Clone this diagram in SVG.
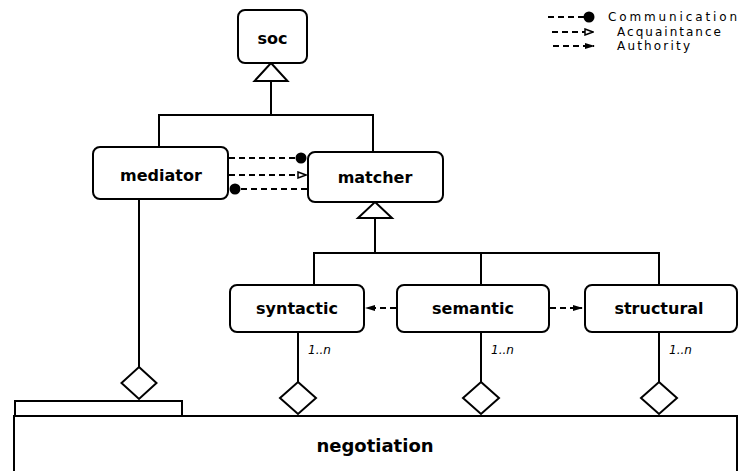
<svg xmlns="http://www.w3.org/2000/svg" width="740" height="471" viewBox="0 0 740 471">
  <style>
    .box { fill: #fff; stroke: #000; stroke-width: 2; }
    .line { fill: none; stroke: #000; stroke-width: 2; }
    .dash { fill: none; stroke: #000; stroke-width: 2; stroke-dasharray: 6 4; }
    .name { font-family: "DejaVu Sans", sans-serif; font-weight: bold; font-size: 16px; text-anchor: middle; fill: #000; }
    .mult { font-family: "DejaVu Sans", sans-serif; font-style: italic; font-size: 12px; fill: #000; }
    .legend { font-family: "DejaVu Sans", sans-serif; font-size: 12px; fill: #000; }
  </style>
  <defs>
    <marker id="dot" viewBox="0 0 12 12" refX="6" refY="6" markerWidth="12" markerHeight="12" markerUnits="userSpaceOnUse">
      <circle cx="6" cy="6" r="5.5" fill="#000"/>
    </marker>
    <marker id="open" viewBox="0 0 10 8" refX="9" refY="4" markerWidth="10" markerHeight="8" markerUnits="userSpaceOnUse" orient="auto">
      <path d="M1,1 L9,4 L1,7 Z" fill="#fff" stroke="#000" stroke-width="1.5"/>
    </marker>
    <marker id="solid" viewBox="0 0 10 8" refX="9" refY="4" markerWidth="10" markerHeight="8" markerUnits="userSpaceOnUse" orient="auto">
      <path d="M0,1 L10,4 L0,7 Z" fill="#000"/>
    </marker>
  </defs>

  <!-- legend -->
  <g id="legend">
    <line class="dash" x1="548" y1="17" x2="589" y2="17" stroke-dasharray="4 3" marker-end="url(#dot)"/>
    <text class="legend" x="608" y="21" textLength="129" lengthAdjust="spacing">Communication</text>
    <line class="dash" x1="552" y1="32" x2="593" y2="32" stroke-dasharray="4 3" marker-end="url(#open)"/>
    <text class="legend" x="617" y="36" textLength="104" lengthAdjust="spacing">Acquaintance</text>
    <line class="dash" x1="553" y1="46" x2="594" y2="46" stroke-dasharray="4 3" marker-end="url(#solid)"/>
    <text class="legend" x="617" y="50" textLength="73" lengthAdjust="spacing">Authority</text>
  </g>

  <!-- connectors -->
  <g id="connectors">
    <!-- generalisation to soc -->
    <polyline class="line" points="159,147 159,115 373,115 373,152"/>
    <line class="line" x1="271" y1="81" x2="271" y2="115"/>
    <path class="box" d="M271,63 L287.5,81 L254.5,81 Z"/>
    <!-- generalisation to matcher -->
    <polyline class="line" points="314,285 314,253 659,253 659,285"/>
    <line class="line" x1="481" y1="253" x2="481" y2="285"/>
    <line class="line" x1="375" y1="218" x2="375" y2="253"/>
    <path class="box" d="M375,202 L392,218 L358,218 Z"/>
    <!-- mediator / matcher dependencies -->
    <line class="dash" x1="229" y1="158" x2="301" y2="158" marker-end="url(#dot)"/>
    <line class="dash" x1="229" y1="175" x2="306" y2="175" marker-end="url(#open)"/>
    <line class="dash" x1="307" y1="189" x2="235" y2="189" marker-end="url(#dot)"/>
    <!-- matcher variants -->
    <line class="dash" x1="396" y1="308" x2="366" y2="308" marker-end="url(#solid)"/>
    <line class="dash" x1="550" y1="308" x2="582" y2="308" marker-end="url(#solid)"/>
    <!-- aggregations into negotiation -->
    <line class="line" x1="139" y1="199" x2="139" y2="367"/>
    <path class="box" d="M139,367 L156.5,383 L139,399 L121.5,383 Z"/>
    <line class="line" x1="298" y1="333" x2="298" y2="382"/>
    <path class="box" d="M298,382 L316,398 L298,414 L280,398 Z"/>
    <line class="line" x1="481" y1="333" x2="481" y2="382"/>
    <path class="box" d="M481,382 L499,398 L481,414 L463,398 Z"/>
    <line class="line" x1="659" y1="333" x2="659" y2="382"/>
    <path class="box" d="M659,382 L677,398 L659,414 L641,398 Z"/>
    <text class="mult" x="308" y="354">1..n</text>
    <text class="mult" x="491" y="354">1..n</text>
    <text class="mult" x="669" y="354">1..n</text>
  </g>

  <g id="soc">
    <rect class="box" x="238" y="10" width="69" height="53" rx="7"/>
    <text class="name" x="272.5" y="44">soc</text>
  </g>

  <g id="mediator">
    <rect class="box" x="93" y="147" width="135" height="52" rx="7"/>
    <text class="name" x="161" y="181">mediator</text>
  </g>

  <g id="matcher">
    <rect class="box" x="308" y="152" width="135" height="50" rx="7"/>
    <text class="name" x="375" y="183">matcher</text>
  </g>

  <g id="syntactic">
    <rect class="box" x="230" y="285" width="134" height="47" rx="7"/>
    <text class="name" x="297" y="314">syntactic</text>
  </g>

  <g id="semantic">
    <rect class="box" x="397" y="285" width="152" height="47" rx="7"/>
    <text class="name" x="473" y="314">semantic</text>
  </g>

  <g id="structural">
    <rect class="box" x="585" y="285" width="152" height="47" rx="7"/>
    <text class="name" x="659" y="314">structural</text>
  </g>

  <g id="negotiation">
    <rect class="box" x="15" y="401" width="167" height="15"/>
    <rect class="box" x="14" y="416" width="723" height="60"/>
    <text class="name" x="375" y="452" style="font-size:18px">negotiation</text>
  </g>
</svg>
